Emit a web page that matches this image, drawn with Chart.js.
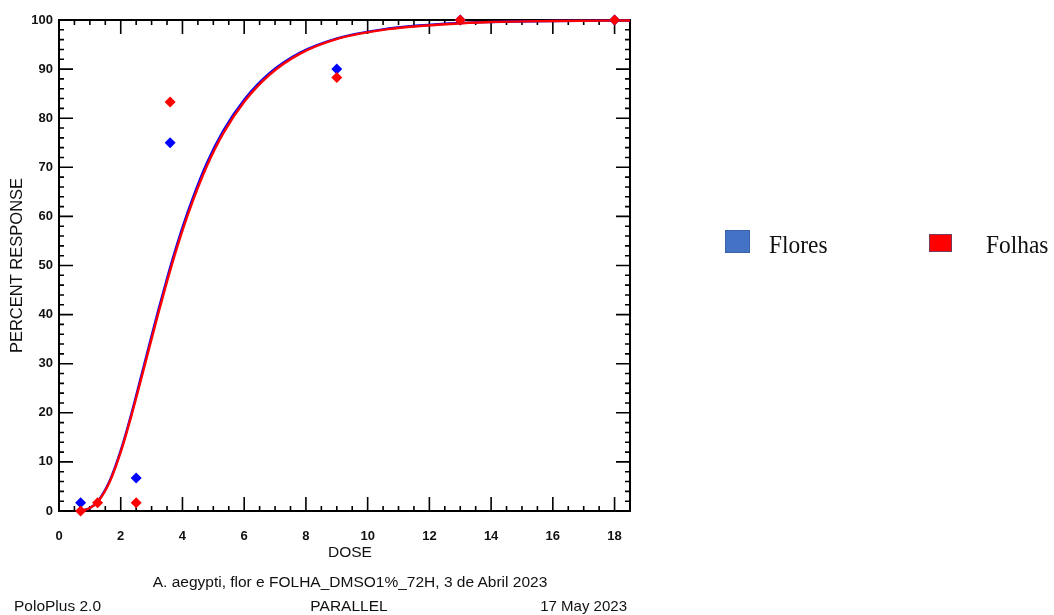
<!DOCTYPE html>
<html><head><meta charset="utf-8">
<script src="https://cdn.jsdelivr.net/npm/chart.js@4.4.0/dist/chart.umd.min.js"></script>
<style>
html,body{margin:0;padding:0;background:#fff;width:1054px;height:615px;overflow:hidden;}
#wrap{position:relative;width:1054px;height:615px;background:#fff;}
canvas{position:absolute;left:0;top:0;}
.t{position:absolute;font-family:"Liberation Sans",Arial,sans-serif;font-size:15px;color:#111;white-space:nowrap;line-height:18px;}
.lg{position:absolute;font-family:"Liberation Serif","Times New Roman",serif;font-size:26px;color:#111;white-space:nowrap;line-height:30px;transform:scaleX(0.9);transform-origin:left top;}
.sw{position:absolute;box-sizing:border-box;}
</style></head><body>
<div id="wrap">
<canvas id="c" width="1054" height="615"></canvas>
<div class="t" style="left:350px;top:543px;font-size:15.5px;transform:translateX(-50%)">DOSE</div>
<div class="t" style="left:350px;top:573px;font-size:15.5px;transform:translateX(-50%)">A. aegypti, flor e FOLHA_DMSO1%_72H, 3 de Abril 2023</div>
<div class="t" style="left:14px;top:597px;font-size:15.5px;">PoloPlus 2.0</div>
<div class="t" style="left:349px;top:597px;font-size:15.5px;transform:translateX(-50%)">PARALLEL</div>
<div class="t" style="right:427px;top:597px;">17 May 2023</div>
<div class="sw" style="left:725px;top:230px;width:25px;height:23px;background:#4472C4;border:1px solid #3A62A8;"></div>
<div class="lg" style="left:769px;top:230px;">Flores</div>
<div class="sw" style="left:929px;top:234px;width:23px;height:18px;background:#FF0000;border:1px solid #7A3A5A;"></div>
<div class="lg" style="left:986px;top:230px;">Folhas</div>
</div>
<script>
// ---- data ----
const xTicks = [0, 2, 4, 6, 8, 10, 12, 14, 16, 18];
const yTicks = [0, 10, 20, 30, 40, 50, 60, 70, 80, 90, 100];
const seriesNames = ['Flores', 'Folhas'];
const floresDose = [0.7, 2.5, 3.6, 9, 13, 18];
const floresPct  = [1.7, 6.7, 75, 90, 100, 100];
const folhasDose = [0.7, 1.25, 2.5, 3.6, 9, 13, 18];
const folhasPct  = [0, 1.7, 1.7, 83.3, 88.3, 100, 100];
const curveDose   = [0.6, 0.8, 1.0, 1.26, 1.64, 2.02, 2.35, 2.62, 2.89, 3.21, 3.48, 3.7, 4.02, 4.34, 4.78, 5.32, 6.02, 6.83, 7.8, 9.04, 10.5, 12.66, 14, 16, 18.5];
const floresCurve = [0.05, 0.2, 0.6, 2.0, 6.1, 12.7, 19.9, 26.4, 33.0, 40.7, 46.9, 51.7, 58.1, 63.8, 70.7, 77.4, 83.9, 89.2, 93.3, 96.3, 98.1, 99.3, 99.6, 99.8, 99.9];
const folhasCurve = [0.05, 0.15, 0.6, 1.9, 5.9, 12.4, 19.5, 25.9, 32.4, 40.1, 46.3, 51.1, 57.5, 63.2, 70.1, 76.9, 83.5, 88.9, 93.1, 96.2, 98.0, 99.2, 99.6, 99.8, 99.9];
const xMinorStep = 0.5;
const yMinorStep = 2;

const pts = (xs, ys) => xs.map((x, i) => ({x: x, y: ys[i]}));
const BLUE = '#0000FF', RED = '#FF0000';

const frameTicks = {
  id: 'frameTicks',
  beforeDatasetsDraw(chart) {
    const {ctx, chartArea: a, scales: {x, y}} = chart;
    ctx.save();
    ctx.strokeStyle = '#000';
    ctx.lineWidth = 2;
    ctx.strokeRect(a.left, a.top, a.right - a.left, a.bottom - a.top);
    ctx.lineWidth = 1.6;
    ctx.beginPath();
    for (let v = 0; v <= x.max + 1e-9; v += xMinorStep) {
      const L = xTicks.some(t => Math.abs(t - v) < 1e-9) ? 14 : 5;
      const px = x.getPixelForValue(v);
      ctx.moveTo(px, a.bottom); ctx.lineTo(px, a.bottom - L);
      ctx.moveTo(px, a.top); ctx.lineTo(px, a.top + L);
    }
    for (let v = 0; v <= y.max + 1e-9; v += yMinorStep) {
      const L = yTicks.some(t => Math.abs(t - v) < 1e-9) ? 14 : 5;
      const py = y.getPixelForValue(v);
      ctx.moveTo(a.left, py); ctx.lineTo(a.left + L, py);
      ctx.moveTo(a.right, py); ctx.lineTo(a.right - L, py);
    }
    ctx.stroke();
    ctx.restore();
  }
};

new Chart(document.getElementById('c'), {
  type: 'scatter',
  data: {
    datasets: [
      {label: seriesNames[1], data: pts(folhasDose, folhasPct), backgroundColor: RED, borderColor: RED,
       pointStyle: 'rectRot', pointRadius: 5.5, borderWidth: 0, clip: false, order: 0},
      {label: seriesNames[0], data: pts(floresDose, floresPct), backgroundColor: BLUE, borderColor: BLUE,
       pointStyle: 'rectRot', pointRadius: 5.5, borderWidth: 0, clip: false, order: 1},
      {label: seriesNames[1] + ' fit', data: pts(curveDose, folhasCurve), showLine: true, borderColor: RED,
       borderWidth: 2.4, pointRadius: 0, cubicInterpolationMode: 'monotone', fill: false, clip: false, order: 2},
      {label: seriesNames[0] + ' fit', data: pts(curveDose, floresCurve), showLine: true, borderColor: BLUE,
       borderWidth: 2.4, pointRadius: 0, cubicInterpolationMode: 'monotone', fill: false, clip: false, order: 3}
    ]
  },
  options: {
    responsive: false,
    animation: false,
    events: [],
    layout: {padding: {left: 0, right: 424, top: 20, bottom: 55}},
    plugins: {legend: {display: false}, tooltip: {enabled: false}},
    scales: {
      x: {
        type: 'linear', min: 0, max: 18.5,
        afterBuildTicks: s => { s.ticks = xTicks.map(v => ({value: v})); },
        afterFit: s => { s.height = 49; },
        grid: {display: false, drawTicks: false},
        border: {display: false},
        ticks: {font: {family: '"Liberation Sans", Arial, sans-serif', size: 13, weight: 'bold'}, color: '#111',
                padding: 18, maxRotation: 0, autoSkip: false}
      },
      y: {
        type: 'linear', min: 0, max: 100,
        afterBuildTicks: s => { s.ticks = yTicks.map(v => ({value: v})); },
        afterFit: s => { s.width = 59; },
        grid: {display: false, drawTicks: false},
        border: {display: false},
        ticks: {font: {family: '"Liberation Sans", Arial, sans-serif', size: 13, weight: 'bold'}, color: '#111',
                padding: 6, autoSkip: false},
        title: {display: true, text: 'PERCENT RESPONSE', color: '#111',
                font: {family: '"Liberation Sans", Arial, sans-serif', size: 16.5}, padding: {top: 8, bottom: 0}}
      }
    }
  },
  plugins: [frameTicks]
});
</script>
</body></html>
